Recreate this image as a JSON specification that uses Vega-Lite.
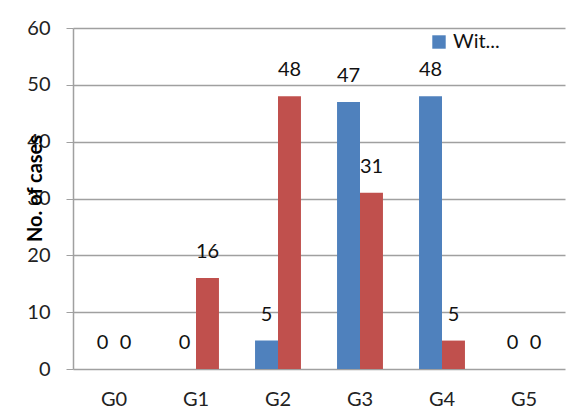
{
  "$schema": "https://vega.github.io/schema/vega-lite/v6.json",
  "width": 492,
  "height": 341,
  "autosize": {"type": "none"},
  "padding": {"left": 73, "top": 28, "right": 8, "bottom": 41},
  "background": "white",
  "config": {
    "view": {"stroke": null},
    "font": "Lato",
    "axis": {"labelFont": "Lato", "titleFont": "Lato"}
  },
  "data": {
    "values": [
      {"group": "G0", "series": "Wit...", "cases": 0},
      {"group": "G0", "series": "Other", "cases": 0},
      {"group": "G1", "series": "Wit...", "cases": 0},
      {"group": "G1", "series": "Other", "cases": 16},
      {"group": "G2", "series": "Wit...", "cases": 5},
      {"group": "G2", "series": "Other", "cases": 48},
      {"group": "G3", "series": "Wit...", "cases": 47},
      {"group": "G3", "series": "Other", "cases": 31},
      {"group": "G4", "series": "Wit...", "cases": 48},
      {"group": "G4", "series": "Other", "cases": 5},
      {"group": "G5", "series": "Wit...", "cases": 0},
      {"group": "G5", "series": "Other", "cases": 0}
    ]
  },
  "encoding": {
    "x": {
      "field": "group",
      "type": "nominal",
      "sort": null,
      "scale": {"paddingInner": 0.44, "paddingOuter": 0.22},
      "axis": {
        "title": null,
        "labelAngle": 0,
        "ticks": false,
        "domain": false,
        "labelFontSize": 20,
        "labelColor": "#222",
        "labelPadding": 20
      }
    },
    "xOffset": {"field": "series", "type": "nominal", "sort": ["Wit...", "Other"]},
    "y": {
      "field": "cases",
      "type": "quantitative",
      "scale": {"domain": [0, 60]},
      "axis": {
        "title": "No. of cases",
        "titleFontSize": 20,
        "titleFontWeight": "bold",
        "titleColor": "#000",
        "titleX": -38,
        "titleY": 160,
        "titleAlign": "center",
        "titleBaseline": "middle",
        "titleAngle": -90,
        "values": [0, 10, 20, 30, 40, 50, 60],
        "labelFontSize": 20,
        "labelColor": "#222",
        "labelPadding": 16,
        "tickSize": 7,
        "tickColor": "#a0a0a0",
        "gridColor": "#a0a0a0",
        "gridWidth": 1.5,
        "domainColor": "#a0a0a0",
        "domainWidth": 1.5
      }
    }
  },
  "layer": [
    {
      "mark": {"type": "bar"},
      "encoding": {
        "color": {
          "field": "series",
          "type": "nominal",
          "sort": ["Wit...", "Other"],
          "scale": {"domain": ["Wit...", "Other"], "range": ["#4F81BD", "#C0504D"]},
          "legend": {
            "values": ["Wit..."],
            "title": null,
            "orient": "none",
            "legendX": 356,
            "legendY": 4,
            "symbolType": "square",
            "symbolSize": 180,
            "symbolStrokeWidth": 0,
            "labelFontSize": 20,
            "labelColor": "#111"
          }
        }
      }
    },
    {
      "mark": {"type": "text", "dy": -26, "fontSize": 20, "color": "#111", "baseline": "middle"},
      "encoding": {"text": {"field": "cases", "type": "quantitative"}}
    }
  ]
}
